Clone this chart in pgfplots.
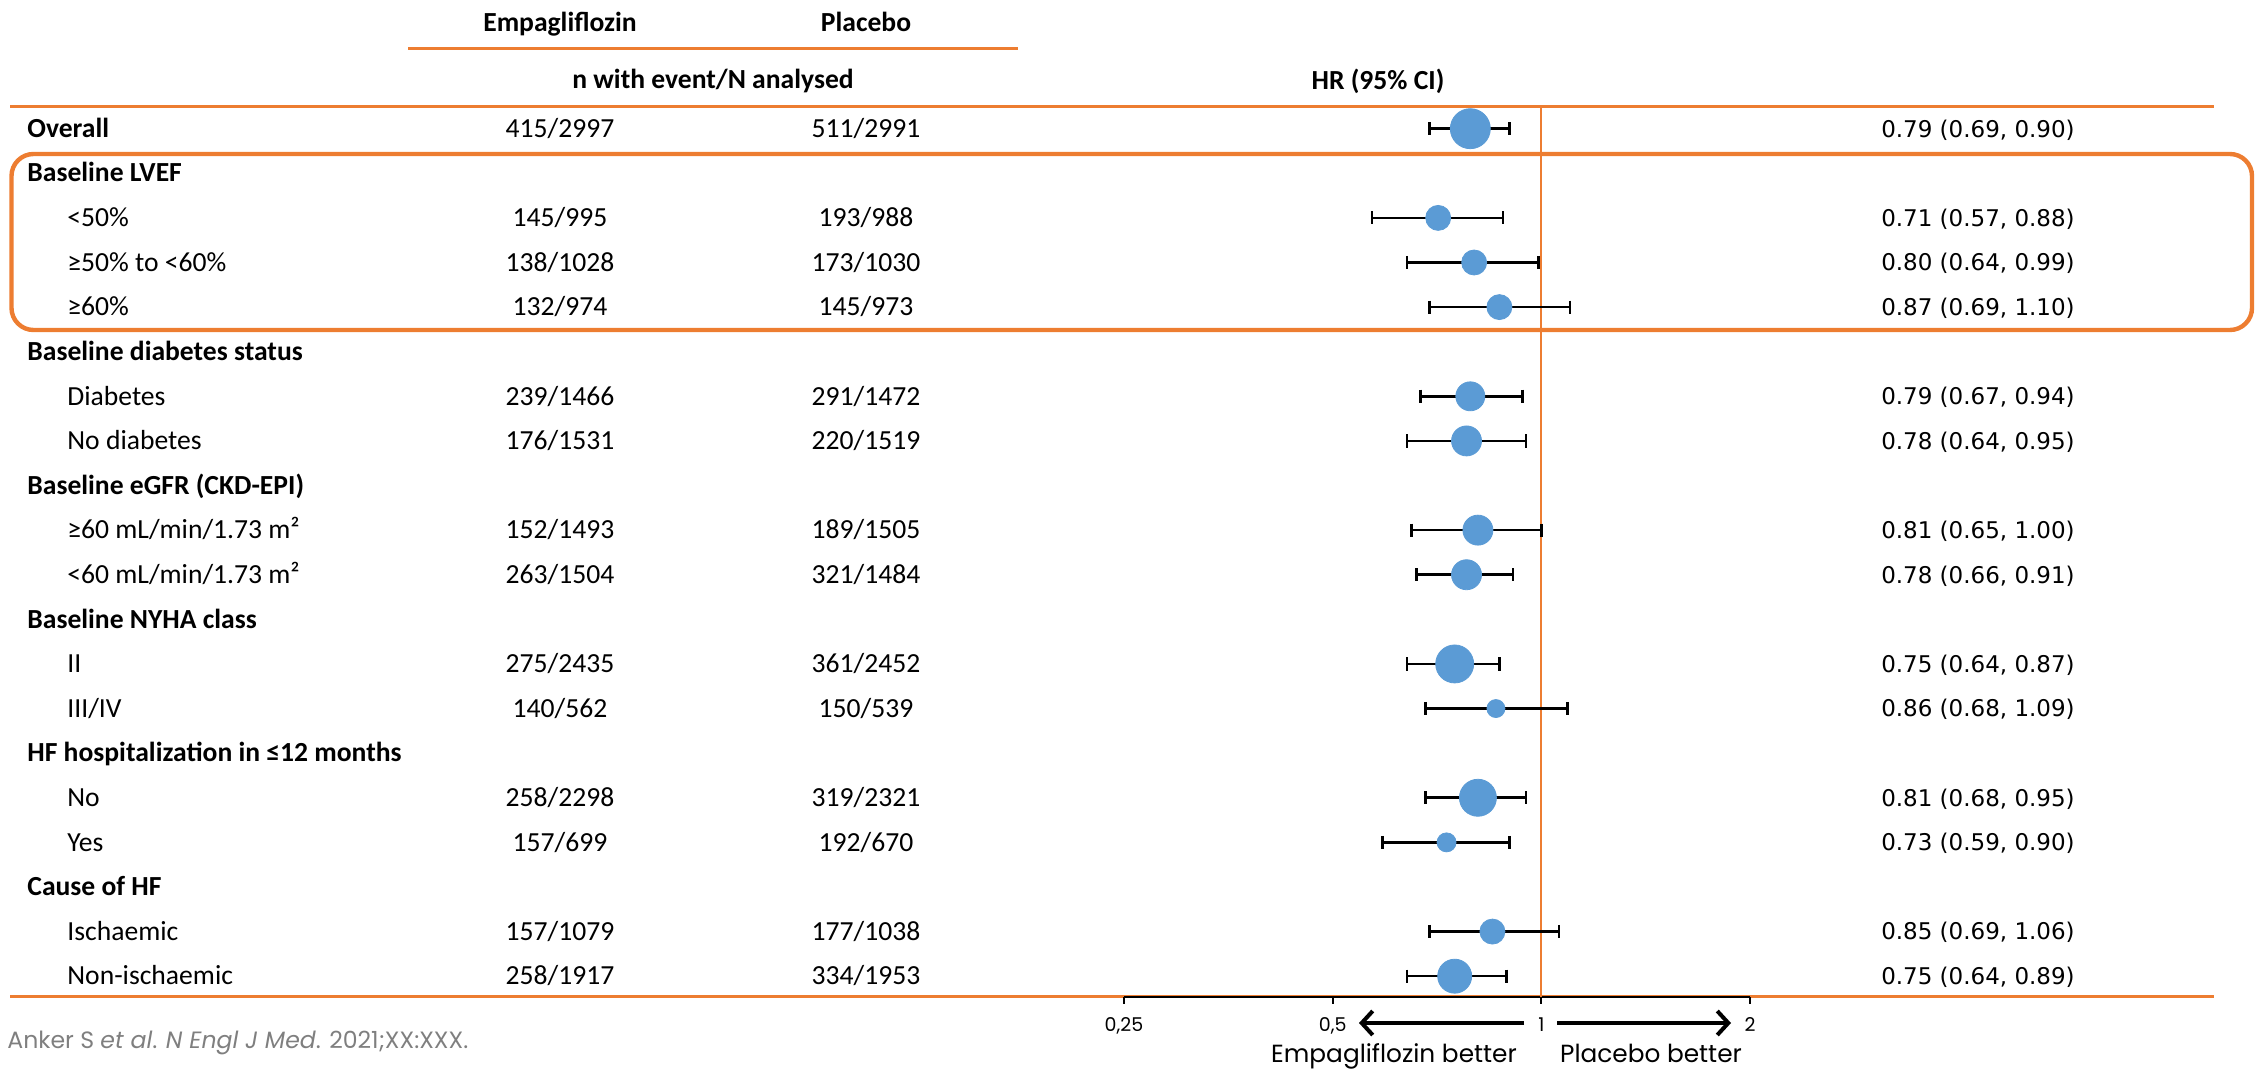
\documentclass[border=0pt]{standalone}
\usepackage{fontspec}
\setmainfont{Carlito}
\newfontfamily\hrfont{DejaVu Sans}
\newfontfamily\gfont{Poppins}
\usepackage{pgfplots}
\usepackage{pgfplotstable}
\pgfplotsset{compat=1.18}
\usetikzlibrary{arrows.meta}
\definecolor{orng}{HTML}{ED7D31}
\definecolor{hrblue}{HTML}{5B9BD5}
\definecolor{ftgray}{HTML}{7F7F7F}

% y = -row index, hr, lower, upper, marker radius (pt)
\pgfplotstableread{
y hr lo hi r
0 0.79 0.69 0.90 10
-2 0.71 0.57 0.88 6.25
-3 0.80 0.64 0.99 6.25
-4 0.87 0.69 1.10 6.25
-6 0.79 0.67 0.94 7.25
-7 0.78 0.64 0.95 7.5
-9 0.81 0.65 1.00 7.5
-10 0.78 0.66 0.91 7.5
-12 0.75 0.64 0.87 9.5
-13 0.86 0.68 1.09 4.5
-15 0.81 0.68 0.95 9.25
-16 0.73 0.59 0.90 4.75
-18 0.85 0.69 1.06 6.25
-19 0.75 0.64 0.89 8.5
}\hrdata

\tikzset{
  t/.style={inner sep=0pt, text height=8.7pt, text depth=0pt, font=\fontsize{13.8}{16}\selectfont},
  tb/.style={t, font=\fontsize{13.8}{16}\selectfont\bfseries},
  th/.style={inner sep=0pt, text height=8.4pt, text depth=0pt, font=\hrfont\fontsize{11.5}{13}\selectfont},
}
\newcommand\grp[2]{\node[tb, anchor=west] at (27,{128.7+44.6*#1}) {#2};}
\newcommand\rw[6]{%
  \node[#6, anchor=west] at (#2,{128.7+44.6*#1}) {#3};
  \node[t] at (560,{128.7+44.6*#1}) {#4};
  \node[t] at (866,{128.7+44.6*#1}) {#5};
}
\newcommand\hrt[2]{\node[th] at (1978,{128.7+44.6*#1}) {#2};}

\begin{document}
\begin{tikzpicture}
\begin{scope}[x=0.5pt,y=-0.5pt]
\path (0,0) rectangle (2267,1070);
% header
\node[tb] at (560,23) {Empagliflozin};
\node[tb] at (866,23) {Placebo};
\draw[orng, line width=1.5pt] (408,49) -- (1018,49);
\node[tb] at (713,80) {n with event/N analysed};
\node[tb] at (1378,81) {HR (95\% CI)};
\draw[orng, line width=1.5pt] (10,106.7) -- (2214,106.7);
\draw[orng, line width=1.5pt] (10,996.7) -- (2214,996.7);
\draw[orng, line width=2.2pt, rounded corners=11pt] (11.5,154) rectangle (2252,330);
% rows
\rw{0}{27}{Overall}{415/2997}{511/2991}{tb}
\grp{1}{Baseline LVEF}
\rw{2}{67}{<50\%}{145/995}{193/988}{t}
\rw{3}{67}{≥50\% to <60\%}{138/1028}{173/1030}{t}
\rw{4}{67}{≥60\%}{132/974}{145/973}{t}
\grp{5}{Baseline diabetes status}
\rw{6}{67}{Diabetes}{239/1466}{291/1472}{t}
\rw{7}{67}{No diabetes}{176/1531}{220/1519}{t}
\grp{8}{Baseline eGFR (CKD-EPI)}
\rw{9}{67}{≥60 mL/min/1.73 m²}{152/1493}{189/1505}{t}
\rw{10}{67}{<60 mL/min/1.73 m²}{263/1504}{321/1484}{t}
\grp{11}{Baseline NYHA class}
\rw{12}{67}{II}{275/2435}{361/2452}{t}
\rw{13}{67}{III/IV}{140/562}{150/539}{t}
\grp{14}{HF hospitalization in ≤12 months}
\rw{15}{67}{No}{258/2298}{319/2321}{t}
\rw{16}{67}{Yes}{157/699}{192/670}{t}
\grp{17}{Cause of HF}
\rw{18}{67}{Ischaemic}{157/1079}{177/1038}{t}
\rw{19}{67}{Non-ischaemic}{258/1917}{334/1953}{t}
% HR column
\hrt{0}{0.79 (0.69, 0.90)}
\hrt{2}{0.71 (0.57, 0.88)}
\hrt{3}{0.80 (0.64, 0.99)}
\hrt{4}{0.87 (0.69, 1.10)}
\hrt{6}{0.79 (0.67, 0.94)}
\hrt{7}{0.78 (0.64, 0.95)}
\hrt{9}{0.81 (0.65, 1.00)}
\hrt{10}{0.78 (0.66, 0.91)}
\hrt{12}{0.75 (0.64, 0.87)}
\hrt{13}{0.86 (0.68, 1.09)}
\hrt{15}{0.81 (0.68, 0.95)}
\hrt{16}{0.73 (0.59, 0.90)}
\hrt{18}{0.85 (0.69, 1.06)}
\hrt{19}{0.75 (0.64, 0.89)}
\end{scope}

\begin{axis}[
  at={(562pt,-53.35pt)}, anchor=north west,
  scale only axis, width=313pt, height=445pt,
  xmode=log, xmin=0.25, xmax=2,
  ymin=-19.46, ymax=0.493,
  axis x line=bottom, axis y line=none,
  axis line style={-},
  x axis line style={black, line width=1pt, -},
  xtick={0.25,0.5,1,2}, xticklabels={{0,25},{0,5},{1},{2}},
  minor xtick={},
  tick align=outside, major tick length=3.5pt,
  tick style={black, line width=1pt},
  xticklabel style={font=\gfont\fontsize{9.5}{11}\selectfont, yshift=-3.5pt},
  clip=false,
]
\draw[orng, line width=1pt] (axis cs:1,0.493) -- (axis cs:1,-19.46);
\pgfplotsset{ci/.style={black, line width=1.3pt, mark=|, mark size=3.3pt, mark options={line width=1.3pt}}}
\addplot[ci] coordinates {(0.69,0) (0.90,0)};
\addplot[ci] coordinates {(0.57,-2) (0.88,-2)};
\addplot[ci] coordinates {(0.64,-3) (0.99,-3)};
\addplot[ci] coordinates {(0.69,-4) (1.10,-4)};
\addplot[ci] coordinates {(0.67,-6) (0.94,-6)};
\addplot[ci] coordinates {(0.64,-7) (0.95,-7)};
\addplot[ci] coordinates {(0.65,-9) (1.00,-9)};
\addplot[ci] coordinates {(0.66,-10) (0.91,-10)};
\addplot[ci] coordinates {(0.64,-12) (0.87,-12)};
\addplot[ci] coordinates {(0.68,-13) (1.09,-13)};
\addplot[ci] coordinates {(0.68,-15) (0.95,-15)};
\addplot[ci] coordinates {(0.59,-16) (0.90,-16)};
\addplot[ci] coordinates {(0.69,-18) (1.06,-18)};
\addplot[ci] coordinates {(0.64,-19) (0.89,-19)};
\addplot[scatter, only marks, mark=*,
  scatter/use mapped color={draw=hrblue, fill=hrblue},
  visualization depends on={\thisrow{r} \as \rad},
  scatter/@pre marker code/.append style={/tikz/mark size=\rad pt}]
  table[x=hr, y=y] {\hrdata};
\end{axis}

\begin{scope}[x=0.5pt,y=-0.5pt]
\draw[line width=2pt, -{Straight Barb[length=5.5pt,width=12pt]}] (1524,1023) -- (1359,1023);
\draw[line width=2pt, -{Straight Barb[length=5.5pt,width=12pt]}] (1557,1023) -- (1731,1023);
\node[inner sep=0pt, anchor=base, font=\gfont\fontsize{12.4}{14}\selectfont] at (1394,1062) {Empagliflozin better};
\node[inner sep=0pt, anchor=base, font=\gfont\fontsize{12.4}{14}\selectfont] at (1651,1062) {Placebo better};
\node[inner sep=0pt, anchor=west, text=ftgray, font=\gfont\fontsize{11.8}{13}\selectfont] at (7,1043) {Anker S \textit{et al}. \textit{N Engl J Med}. 2021;XX:XXX.};
\end{scope}
\end{tikzpicture}
\end{document}
